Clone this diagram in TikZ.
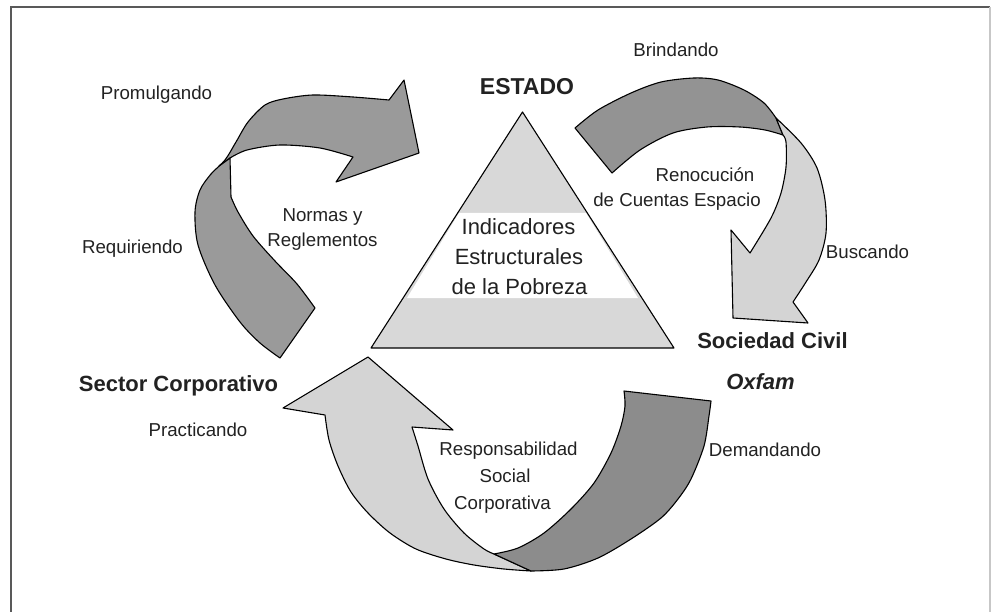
\documentclass[tikz,border=0pt]{standalone}
\usepackage{fontspec}
\setmainfont{Liberation Sans}
\definecolor{txt}{HTML}{222222}
\definecolor{darkA}{HTML}{9A9A9A}
\definecolor{darkB}{HTML}{8C8C8C}
\definecolor{darkC}{HTML}{939393}
\definecolor{lightA}{HTML}{D4D4D4}
\definecolor{triA}{HTML}{D8D8D8}
\begin{document}
\begin{tikzpicture}[x=1pt,y=-1pt,
  band/.style={draw=black, line width=1.1pt, line join=round},
  lbl/.style={anchor=base, inner sep=0pt, font=\fontsize{18.7}{22}\selectfont, text=txt},
  tri/.style={anchor=base, inner sep=0pt, font=\fontsize{22}{26}\selectfont, text=txt},
  actor/.style={anchor=base, inner sep=0pt, font=\bfseries\fontsize{22}{26}\selectfont, text=txt}]
\useasboundingbox (0,0) rectangle (992,612);
% frame
\draw[line width=1.5pt, color=black!65] (11,612) -- (11,7) -- (990,7);
\draw[line width=1.2pt, color=black!22] (990,7) -- (990,612);

% triangle
\fill[triA] (522.5,112) -- (674,348) -- (371,348) -- cycle;
\fill[white] (459,213) -- (586,213) -- (638,298) -- (407,298) -- cycle;
\draw[line width=1.1pt, line join=round] (522.5,112) -- (674,348) -- (371,348) -- cycle;

% top-left arrow (Normas y Reglementos)
\draw[band, fill=darkA]
  (315,308) -- plot[smooth] coordinates {(315,308) (297,284) (275,261) (253,236) (238,212) (231,197)}
  -- (230,158)
  -- plot[smooth] coordinates {(230,158) (247,150) (280,145) (320,148) (353,157)}
  -- (336,182) -- (419,153) -- (404,80) -- (389,100)
  -- plot[smooth] coordinates {(389,100) (353,97) (313,95) (283,99) (265,105) (248,122) (236,142) (225,160) (211,174) (200,190) (195,212) (198,245) (215,285) (240,322) (260,343) (280,358)}
  -- cycle;
\draw[line width=1.3pt] (230,158) -- (219,166);

% top-right arrow (Renocucion de Cuentas Espacio)
\draw[band, fill=darkC]
  (575,128) -- (612,173)
  -- plot[smooth] coordinates {(612,173) (640,150) (673,133) (707,127) (740,127) (765,130) (783,135)}
  -- (776,118)
  -- plot[smooth] coordinates {(776,118) (764,103) (744,90) (718,80) (694,78) (661,82) (631,93) (598,110) (575,128)}
  -- cycle;
\draw[band, fill=lightA]
  (776,118) -- plot[smooth] coordinates {(776,118) (801,143) (817,168) (825,200) (826,233) (819,260) (806,282) (793,302)}
  -- (808,323) -- (733,318) -- (731,230) -- (750,253)
  -- plot[smooth] coordinates {(750,253) (771,218) (781,193) (786,167) (786,142) (783,135)}
  -- cycle;

% bottom light arrow (Practicando)
\draw[band, fill=lightA]
  (412,427) -- plot[smooth] coordinates {(412,427) (418,446) (428,479) (444,509) (464,533) (484,549) (494,554)}
  -- (531,571)
  -- plot[smooth] coordinates {(531,571) (504,569) (474,565) (446,559) (416,549) (390,533) (368,513) (351,492) (338,466) (329,440) (325,415)}
  -- (283,408) -- (368,357) -- (453,430) -- cycle;

% bottom dark arrow (Demandando)
\draw[band, fill=darkB]
  (624,391) -- (711,401)
  -- plot[smooth] coordinates {(711,401) (709,416) (704,446) (691,479) (678,499) (661,518) (631,539) (598,558) (564,569) (531,571)}
  -- (494,554)
  -- plot[smooth] coordinates {(494,554) (518,548) (544,533) (571,509) (594,483) (611,453) (621,426) (625,406) (624,391)}
  -- cycle;

% actors
\node[actor, font=\bfseries\fontsize{23}{27}\selectfont] (estado) at (527,94.9) {ESTADO};
\node[actor] (sociedad) at (772.5,348.9) {Sociedad Civil};
\node[actor, font=\bfseries\itshape\fontsize{22}{26}\selectfont] (oxfam) at (760.5,389.9) {Oxfam};
\node[actor] (sector) at (178.5,391.9) {Sector Corporativo};

% triangle text
\node[tri] (ind1) at (518.5,234.9) {Indicadores};
\node[tri] (ind2) at (519,264.9) {Estructurales};
\node[tri] (ind3) at (519.5,294.9) {de la Pobreza};

% labels
\node[lbl] (prom) at (156.5,99.7) {Promulgando};
\node[lbl] (req) at (132.5,253.7) {Requiriendo};
\node[lbl] (norm1) at (322.5,221.7) {Normas y};
\node[lbl] (norm2) at (322.5,246.7) {Reglementos};
\node[lbl] (brin) at (676,56.7) {Brindando};
\node[lbl] (ren1) at (705,181.7) {Renocución};
\node[lbl] (ren2) at (677,206.7) {de Cuentas Espacio};
\node[lbl] (busc) at (867.5,258.7) {Buscando};
\node[lbl] (prac) at (198,436.7) {Practicando};
\node[lbl] (rsc1) at (508.5,455.7) {Responsabilidad};
\node[lbl] (rsc2) at (505,482.7) {Social};
\node[lbl] (rsc3) at (502.5,509.7) {Corporativa};
\node[lbl] (dem) at (765,456.7) {Demandando};
\end{tikzpicture}
\end{document}
